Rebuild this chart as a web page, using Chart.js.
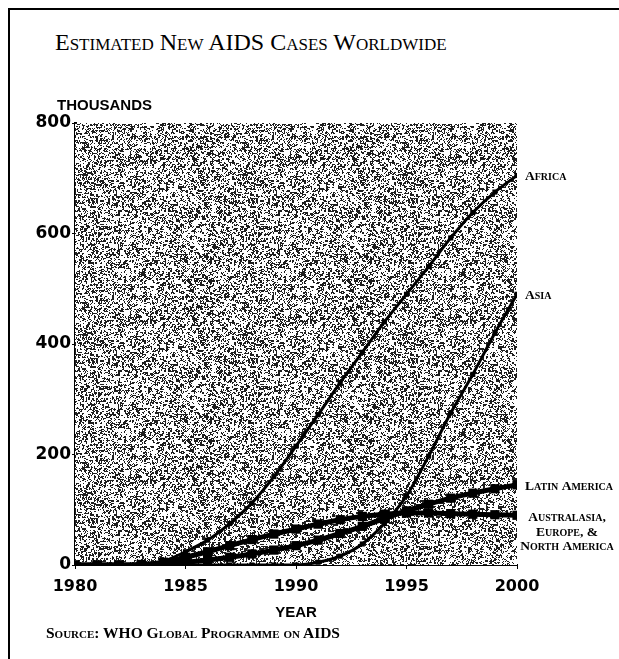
<!DOCTYPE html>
<html>
<head>
<meta charset="utf-8">
<script src="https://cdn.jsdelivr.net/npm/chart.js@4/dist/chart.umd.min.js"></script>
<style>
  html,body{margin:0;padding:0;background:#fff;}
  body{width:619px;height:659px;position:relative;overflow:hidden;}
  #frame{position:absolute;left:8px;top:8px;width:640px;height:680px;border-top:2px solid #000;border-left:2px solid #000;}
  #title{position:absolute;left:55px;top:29px;font-family:"Liberation Serif",serif;font-size:24px;font-variant:small-caps;color:#000;white-space:nowrap;}
  #source{position:absolute;left:46px;top:624px;font-family:"Liberation Serif",serif;font-size:15.5px;font-weight:bold;font-variant:small-caps;color:#000;white-space:nowrap;}
  canvas{position:absolute;left:0;top:0;}
</style>
</head>
<body>
<div id="frame"></div>
<div id="title">Estimated New AIDS Cases Worldwide</div>
<canvas id="c" width="619" height="659"></canvas>
<div id="source">Source: WHO Global Programme on AIDS</div>
<script>
// ---- data (thousands of new AIDS cases) ----
const years = [1980,1981,1982,1983,1984,1985,1986,1987,1988,1989,1990,1991,1992,1993,1994,1995,1996,1997,1998,1999,2000];
const africa = [0,0,0,1,7,24,45,75,112,160,215,272,330,385,440,490,540,592,638,675,705];
const asia = [0,0,0,0,0,0,0,0,0,0,0,5,16,38,75,125,197,275,345,420,490];
const latinAmerica = [0,0,0,0,2,5,9,14,20,27,35,45,57,70,84,98,110,121,130,138,145];
const ausEuNa = [0,0,0,1,5,14,24,35,46,56,65,74,82,88,92,94,94,93,92,91,90];
const xTicks = [1980,1985,1990,1995,2000];
const yTicks = [0,200,400,600,800];
const seriesLabels = [["Africa"],["Asia"],["Latin America"],["Australasia,","Europe, &","North America"]];

const toPts = arr => arr.map((v,i)=>({x:years[i], y:v}));

// deterministic stipple texture for the plot background
function hash(x,y){
  let h = (x*374761393 + y*668265263) | 0;
  h = Math.imul(h ^ (h >>> 13), 1274126177);
  h = h ^ (h >>> 16);
  return (h >>> 0) / 4294967296;
}
function makePattern(ctx){
  const s = 160;
  const c = document.createElement('canvas'); c.width = s; c.height = s;
  const g = c.getContext('2d');
  const img = g.createImageData(s,s);
  for(let y=0;y<s;y++){
    for(let x=0;x<s;x++){
      const a = hash(x,y);
      const b = hash((x>>1)+1000,(y>>1)+2000);
      const v = 0.5*a + 0.5*b;
      const dark = v < 0.43;
      const i = (y*s+x)*4;
      const col = dark ? 30 : 255;
      img.data[i]=col; img.data[i+1]=col; img.data[i+2]=col; img.data[i+3]=255;
    }
  }
  g.putImageData(img,0,0);
  return ctx.createPattern(c,'repeat');
}

function smallCaps(ctx, str, x, y, size, align, weight){
  const fam = '"Liberation Serif", serif';
  const small = Math.round(size*0.74*10)/10;
  const parts = [];
  for(const ch of str){
    const low = ch !== ch.toUpperCase();
    const last = parts[parts.length-1];
    if(last && last.low === low) last.t += ch; else parts.push({t:ch, low});
  }
  let total = 0;
  parts.forEach(p=>{
    ctx.font = weight + ' ' + (p.low?small:size) + 'px ' + fam;
    p.w = ctx.measureText(p.low ? p.t.toUpperCase() : p.t).width;
    total += p.w;
  });
  let cx = align==='center' ? x - total/2 : x;
  ctx.textAlign = 'left';
  ctx.textBaseline = 'alphabetic';
  parts.forEach(p=>{
    ctx.font = weight + ' ' + (p.low?small:size) + 'px ' + fam;
    ctx.fillText(p.low ? p.t.toUpperCase() : p.t, cx, y);
    cx += p.w;
  });
}

const backgroundPlugin = {
  id:'stipple',
  beforeDatasetsDraw(chart){
    const {ctx, chartArea:a} = chart;
    if(!chart._pat) chart._pat = makePattern(ctx);
    ctx.save();
    ctx.fillStyle = chart._pat;
    ctx.fillRect(a.left, a.top, a.right-a.left, a.bottom-a.top);
    ctx.restore();
  }
};

const labelsPlugin = {
  id:'seriesLabels',
  afterDraw(chart){
    const {ctx, chartArea:a, scales} = chart;
    ctx.save();
    ctx.fillStyle = '#000';
    chart.data.datasets.forEach((ds,i)=>{
      const last = ds.data[ds.data.length-1].y;
      const y = scales.y.getPixelForValue(last);
      const lines = seriesLabels[i];
      if(lines.length === 1){
        smallCaps(ctx, lines[0], a.right + 8, y + 5, 13.5, 'left', 'bold');
      } else {
        lines.forEach((t,k)=> smallCaps(ctx, t, a.right + 50, y + 6 + k*14.5, 13.5, 'center', 'bold'));
      }
    });
    // axis titles
    ctx.font = 'bold 15px "Liberation Sans", sans-serif';
    ctx.textBaseline = 'alphabetic';
    ctx.textAlign = 'left';
    ctx.fillText('THOUSANDS', 57, 110);
    ctx.textAlign = 'center';
    ctx.fillText('YEAR', (a.left + a.right)/2, 617);
    ctx.restore();
  }
};

const common = {borderColor:'#000', backgroundColor:'#000', fill:false, cubicInterpolationMode:'monotone', pointStyle:'rect'};

new Chart(document.getElementById('c'), {
  type:'line',
  data:{
    datasets:[
      Object.assign({label:'Africa', data:toPts(africa), borderWidth:3, pointRadius:1.5}, common),
      Object.assign({label:'Asia', data:toPts(asia), borderWidth:3, pointRadius:1.5}, common),
      Object.assign({label:'Latin America', data:toPts(latinAmerica), borderWidth:5, pointRadius:3}, common),
      Object.assign({label:'Australasia, Europe, & North America', data:toPts(ausEuNa), borderWidth:5, pointRadius:3}, common)
    ]
  },
  options:{
    responsive:false,
    animation:false,
    devicePixelRatio:1,
    layout:{padding:{left:0, right:102, top:123, bottom:58}},
    plugins:{legend:{display:false}, tooltip:{enabled:false}, title:{display:false}},
    elements:{point:{borderWidth:0}},
    scales:{
      x:{
        type:'linear', min:years[0], max:years[years.length-1],
        afterBuildTicks: s => { s.ticks = xTicks.map(v=>({value:v})); },
        afterFit: s => { s.height = 36; },
        grid:{display:true, drawOnChartArea:false, drawTicks:true, tickLength:4, color:'#000', lineWidth:1},
        border:{display:true, color:'#000', width:2},
        ticks:{color:'#000', padding:8, maxRotation:0, font:{family:'"DejaVu Sans", sans-serif', weight:'bold', size:16}, callback:v=>String(v)}
      },
      y:{
        type:'linear', min:0, max:800,
        afterBuildTicks: s => { s.ticks = yTicks.map(v=>({value:v})); },
        afterFit: s => { s.width = 75; },
        grid:{display:true, drawOnChartArea:false, drawTicks:true, tickLength:3, color:'#000', lineWidth:1},
        border:{display:true, color:'#000', width:3},
        ticks:{color:'#000', padding:1, font:{family:'"DejaVu Sans", sans-serif', weight:'bold', size:17}, callback:v=>String(v)}
      }
    }
  },
  plugins:[backgroundPlugin, labelsPlugin]
});
</script>
</body>
</html>
